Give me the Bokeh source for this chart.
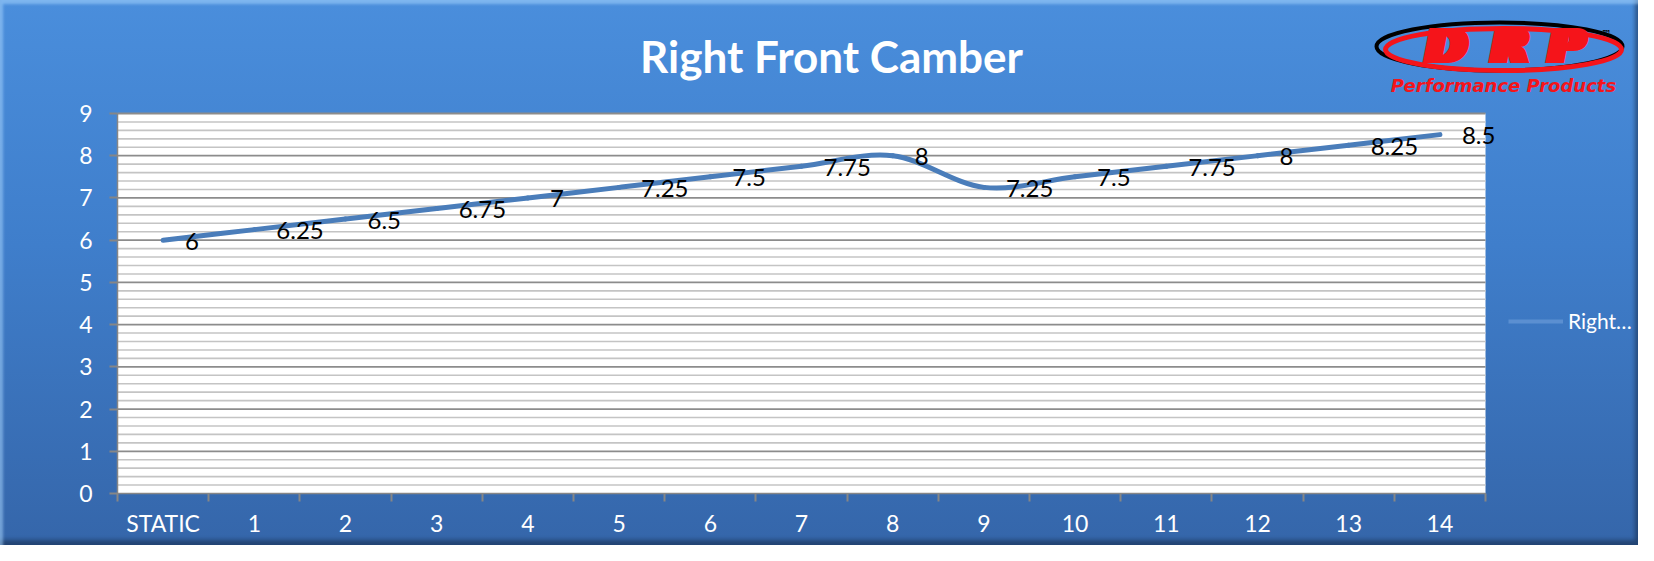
import numpy as np
from bokeh.plotting import figure
from bokeh.models import Range1d, FixedTicker, Legend, LegendItem
from bokeh.core.properties import value
from bokeh.embed import file_html
from bokeh.resources import INLINE

# ---------------- data ----------------
categories = ["STATIC", "1", "2", "3", "4", "5", "6", "7", "8", "9", "10", "11", "12", "13", "14"]
camber = [6, 6.25, 6.5, 6.75, 7, 7.25, 7.5, 7.75, 8, 7.25, 7.5, 7.75, 8, 8.25, 8.5]
y_ticks = [0, 1, 2, 3, 4, 5, 6, 7, 8, 9]
series_name = "Right…"
title_text = "Right Front Camber"

# ---------------- layout (figure pixels) ----------------
FIG_W, FIG_H = 1638, 545
PL, PR, PT, PB = 117, 1485, 113, 493          # white plot area edges
N = len(categories)
YMAX = y_ticks[-1]
x_end = N * (FIG_W - PL) / (PR - PL)
y_end = YMAX * PB / (PB - PT)


def fx(px):
    return (px - PL) * N / (PR - PL)


def fy(py):
    return (PB - py) * YMAX / (PB - PT)


p = figure(width=FIG_W, height=FIG_H,
           x_range=Range1d(0, x_end), y_range=Range1d(0, y_end),
           output_backend="svg", toolbar_location=None,
           min_border_left=PL, min_border_right=0, min_border_top=0,
           min_border_bottom=FIG_H - PB,
           background_fill_alpha=0, border_fill_alpha=0,
           outline_line_color=None,
           styles={
               "background": "linear-gradient(180deg, #4a8edc 0%, #3f7ecb 45%, #3566aa 100%)",
               "box-shadow": "inset 3px 4px 3px rgba(170,215,255,0.55), inset -3px -5px 4px rgba(20,40,70,0.55)",
           })
p.xgrid.visible = False
p.ygrid.visible = False

# white plot area
p.quad(left=[0], right=[N], bottom=[0], top=[YMAX], fill_color="white", line_color=None)

# gridlines
minor_y = [t + k / 5 for t in y_ticks[:-1] for k in range(1, 5)]
p.segment(x0=[0] * len(minor_y), x1=[N] * len(minor_y), y0=minor_y, y1=minor_y,
          line_color="#c4c4c4", line_width=1.6)
major_y = y_ticks[1:]
p.segment(x0=[0] * len(major_y), x1=[N] * len(major_y), y0=major_y, y1=major_y,
          line_color="#8c8c8c", line_width=1.8)

# smoothed series line (Catmull-Rom style bezier through the data points)
xs = np.arange(N) + 0.5
ys = np.array(camber, dtype=float)
x0, y0, x1, y1, cx0, cy0, cx1, cy1 = [], [], [], [], [], [], [], []
for i in range(N - 1):
    im = max(i - 1, 0)
    ip = min(i + 2, N - 1)
    x0.append(xs[i]); y0.append(ys[i])
    x1.append(xs[i + 1]); y1.append(ys[i + 1])
    cx0.append(xs[i] + (xs[i + 1] - xs[im]) / 6)
    cy0.append(ys[i] + (ys[i + 1] - ys[im]) / 6)
    cx1.append(xs[i + 1] - (xs[ip] - xs[i]) / 6)
    cy1.append(ys[i + 1] - (ys[ip] - ys[i]) / 6)
p.bezier(x0=x0, y0=y0, x1=x1, y1=y1, cx0=cx0, cy0=cy0, cx1=cx1, cy1=cy1,
         line_color="#4a7dba", line_width=5, line_cap="round")

# data labels
p.text(x=xs, y=ys, text=[f"{v:g}" for v in camber], x_offset=22, y_offset=1,
       text_align="left", text_baseline="middle",
       text_font=value("Lato"), text_font_size="24px", text_color="black")

# title
p.text(x=[fx(831)], y=[fy(55)], text=[title_text], text_align="center",
       text_baseline="middle", text_font=value("Lato"), text_font_style="bold",
       text_font_size="44px", text_color="white")

# logo
RED = "#f5141a"
p.ellipse(x=[fx(1499)], y=[fy(46)], width=246, height=48, width_units="screen",
          height_units="screen", fill_color=None, line_color="black", line_width=4)
p.ellipse(x=[fx(1503)], y=[fy(49)], width=236, height=42, width_units="screen",
          height_units="screen", fill_color=None, line_color=RED, line_width=5)
for dx in (-5, 0, 5):
    p.text(x=[fx(1446), fx(1510), fx(1566)], y=[fy(45)] * 3, text=["D", "R", "P"],
           x_offset=dx, text_align="center", text_baseline="middle",
           text_font=value("DejaVu Sans"), text_font_style="bold italic",
           text_font_size="48px", text_color=RED)
p.text(x=[fx(1503)], y=[fy(85)], text=["Performance Products"], text_align="center",
       text_baseline="middle", text_font=value("DejaVu Sans"),
       text_font_style="bold italic", text_font_size="18px", text_color=RED)
p.text(x=[fx(1606)], y=[fy(33)], text=["™"], text_align="center",
       text_baseline="middle", text_font=value("DejaVu Sans"),
       text_font_style="bold", text_font_size="10px", text_color="black")

# legend
dummy = p.line(x=xs[:1], y=ys[:1], line_color="#5b8fd1", line_width=4)
legend = Legend(items=[LegendItem(label=series_name, renderers=[dummy])],
                location=(1508 - PL, PB - 333),
                padding=0, margin=0, spacing=0, glyph_width=55, glyph_height=24,
                label_height=24, label_standoff=5,
                background_fill_alpha=0, border_line_alpha=0,
                label_text_font="Lato", label_text_font_size="21px",
                label_text_color="white", label_text_baseline="middle")
p.add_layout(legend)

# axes
AX = "#868686"
xa = p.xaxis[0]
xa.ticker = FixedTicker(ticks=[float(v) for v in xs], minor_ticks=list(range(N + 1)))
xa.major_label_overrides = {float(v): c for v, c in zip(xs, categories)}
xa.bounds = (0, N)
xa.major_tick_out = 0
xa.major_tick_in = 0
xa.minor_tick_out = 8
xa.minor_tick_in = 0
xa.minor_tick_line_color = AX
xa.minor_tick_line_width = 2
xa.axis_line_color = AX
xa.axis_line_width = 1.5
xa.major_label_text_color = "white"
xa.major_label_text_font = "Lato"
xa.major_label_text_font_size = "23px"
xa.major_label_standoff = 7

ya = p.yaxis[0]
ya.ticker = FixedTicker(ticks=y_ticks, minor_ticks=[])
ya.bounds = (0, YMAX)
ya.major_tick_out = 8
ya.major_tick_in = 0
ya.minor_tick_out = 0
ya.minor_tick_in = 0
ya.major_tick_line_color = AX
ya.major_tick_line_width = 2
ya.axis_line_color = AX
ya.axis_line_width = 1.5
ya.major_label_text_color = "white"
ya.major_label_text_font = "Lato"
ya.major_label_text_font_size = "23px"
ya.major_label_standoff = 17

open("out.html", "w").write(file_html(p, INLINE))
